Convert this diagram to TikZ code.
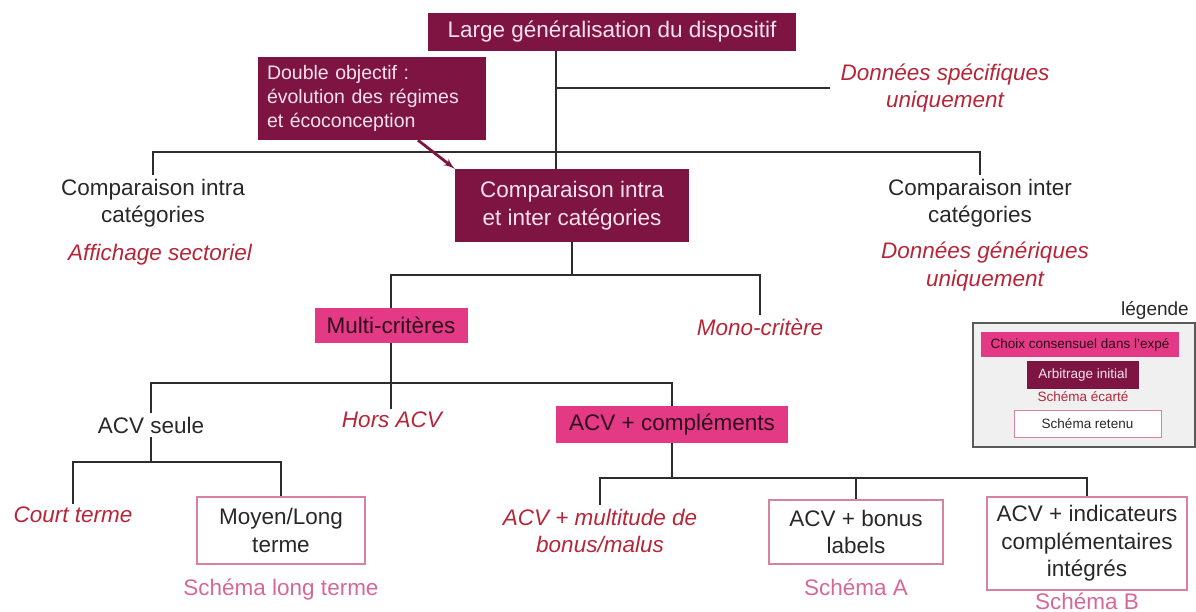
\documentclass[tikz,border=0pt]{standalone}
\usepackage{fontspec}
\setmainfont{Liberation Sans}
\usepackage{tikz}
\usetikzlibrary{shapes,arrows,positioning}

\definecolor{maroon}{RGB}{125,20,66}
\definecolor{paletext}{RGB}{250,226,236}
\definecolor{rosefill}{RGB}{228,58,134}
\definecolor{darktext}{RGB}{45,10,28}
\definecolor{ecartred}{RGB}{182,38,56}
\definecolor{schemapink}{RGB}{214,104,152}
\definecolor{roseline}{RGB}{214,130,160}
\definecolor{plaintext}{RGB}{40,40,40}
\definecolor{linegray}{RGB}{45,45,45}
\definecolor{legendfill}{RGB}{240,240,240}
\definecolor{legendline}{RGB}{90,90,90}

\newcommand{\bigtxt}{\fontsize{22.5}{27.5}\selectfont}
\newcommand{\midtxt}{\fontsize{19.5}{24}\selectfont}
\newcommand{\smalltxt}{\fontsize{13.5}{16}\selectfont}

\tikzstyle{arbitrage} = [rectangle, fill=maroon, text=paletext, font=\bigtxt,
    align=center, inner sep=0pt]
\tikzstyle{consensus} = [rectangle, fill=rosefill, text=darktext, font=\bigtxt,
    inner sep=0pt]
\tikzstyle{retenu} = [rectangle, draw=roseline, line width=1.2pt, fill=white,
    text=plaintext, font=\bigtxt, align=center, inner sep=0pt]
\tikzstyle{ecarte} = [text=ecartred, font=\bigtxt\itshape, align=center]
\tikzstyle{plain} = [text=plaintext, font=\bigtxt, align=center]
\tikzstyle{schema} = [text=schemapink, font=\bigtxt]
\tikzstyle{legendbox} = [rectangle, draw=legendline, line width=1.5pt, fill=legendfill]
\tikzstyle{line} = [draw=linegray, line width=2pt]
\tikzstyle{pointer} = [draw=maroon, line width=2.8pt, -latex']

\begin{document}
\begin{tikzpicture}[x=1pt, y=-1pt, node distance=2pt, auto]
\useasboundingbox (0,0) rectangle (1196,612);

% haut
\node [arbitrage, minimum width=368pt, minimum height=38pt] (top) at (612,32) {Large généralisation du dispositif};
\node [arbitrage, font=\midtxt, align=left, text width=210pt, inner xsep=9pt,
    minimum height=83pt] (dbl) at (372,98.5) {Double objectif :\\évolution des régimes\\et écoconception};
\node [ecarte, inner xsep=10pt] (spec) at (945,88) {Données spécifiques\\uniquement};
\coordinate (trunk) at (556,152);

% comparaison
\node [arbitrage, minimum width=234pt, minimum height=73pt] (comp) at (572,205.5) {Comparaison intra\\et inter catégories};
\node [plain] (intra) at (153,203) {Comparaison intra\\catégories};
\node [ecarte, below=10pt of intra, xshift=7pt] (sector) {Affichage sectoriel};
\node [plain] (inter) at (980,203) {Comparaison inter\\catégories};
\node [ecarte, below=8pt of inter, xshift=5pt] (gener) {Données génériques\\uniquement};

% criteres
\node [consensus, minimum width=153pt, minimum height=35pt] (multi) at (391,325.5) {Multi-critères};
\node [ecarte] (mono) at (760,327) {Mono-critère};

% ACV
\node [plain] (seule) at (151,425) {ACV seule};
\node [ecarte] (hors) at (392,420) {Hors ACV};
\node [consensus, minimum width=232pt, minimum height=37pt] (acvc) at (672,424.5) {ACV + compléments};

% schemas
\node [ecarte] (court) at (73,515) {Court terme};
\node [retenu, minimum width=168pt, minimum height=67pt] (moyen) at (281,530.5) {Moyen/Long\\terme};
\node [schema, below=11pt of moyen] (slt) {Schéma long terme};
\node [ecarte] (mbonus) at (600,531) {ACV + multitude de\\bonus/malus};
\node [retenu, minimum width=174pt, minimum height=64pt] (bonus) at (856,532) {ACV + bonus\\labels};
\node [schema, below=11pt of bonus] (sa) {Schéma A};
\node [retenu, minimum width=200pt, minimum height=93pt] (indic) at (1087,543.5) {ACV + indicateurs\\complémentaires\\intégrés};
\node [schema, below=-1pt of indic] (sb) {Schéma B};

% legende
\node [text=plaintext, font=\fontsize{19}{22}\selectfont] (legende) at (1155,310) {légende};
\node [legendbox, minimum width=222pt, minimum height=124pt] (cadre) at (1084,385) {};
\node [consensus, font=\smalltxt, minimum width=198pt, minimum height=25pt] (l1) at (1080,344.5) {Choix consensuel dans l'expé};
\node [arbitrage, font=\smalltxt, minimum width=112pt, minimum height=28pt] (l2) at (1083,375) {Arbitrage initial};
\node [text=ecartred, font=\smalltxt] (l3) at (1083,397) {Schéma écarté};
\node [retenu, font=\smalltxt, line width=0.8pt, minimum width=147pt, minimum height=27pt] (l4) at (1087.5,423.5) {Schéma retenu};

% liens
\path [line] (trunk |- top.south) -- (trunk |- comp.north);
\path [line] (trunk |- spec.west) -- (spec.west);
\path [line] (intra.north) |- (trunk) -| (inter.north);
\path [line] (comp.south) -- ++(0,33) -| (multi.north);
\path [line] (comp.south) -- ++(0,33) -| (mono.north);
\path [line] (multi.south) -- ++(0,40) -| (seule.north);
\path [line] (multi.south) -- (multi.south |- hors.north);
\path [line] (multi.south) -- ++(0,40) -| (acvc.north);
\path [line] (seule.south) -- ++(0,25) -| (court.north);
\path [line] (seule.south) -- ++(0,25) -| (moyen.north);
\path [line] (acvc.south) -- ++(0,35) -| (mbonus.north);
\path [line] (acvc.south) -- ++(0,35) -| (bonus.north);
\path [line] (acvc.south) -- ++(0,35) -| (indic.north);
\path [pointer] ([xshift=46pt]dbl.south) -- (comp.north west);
\end{tikzpicture}
\end{document}
